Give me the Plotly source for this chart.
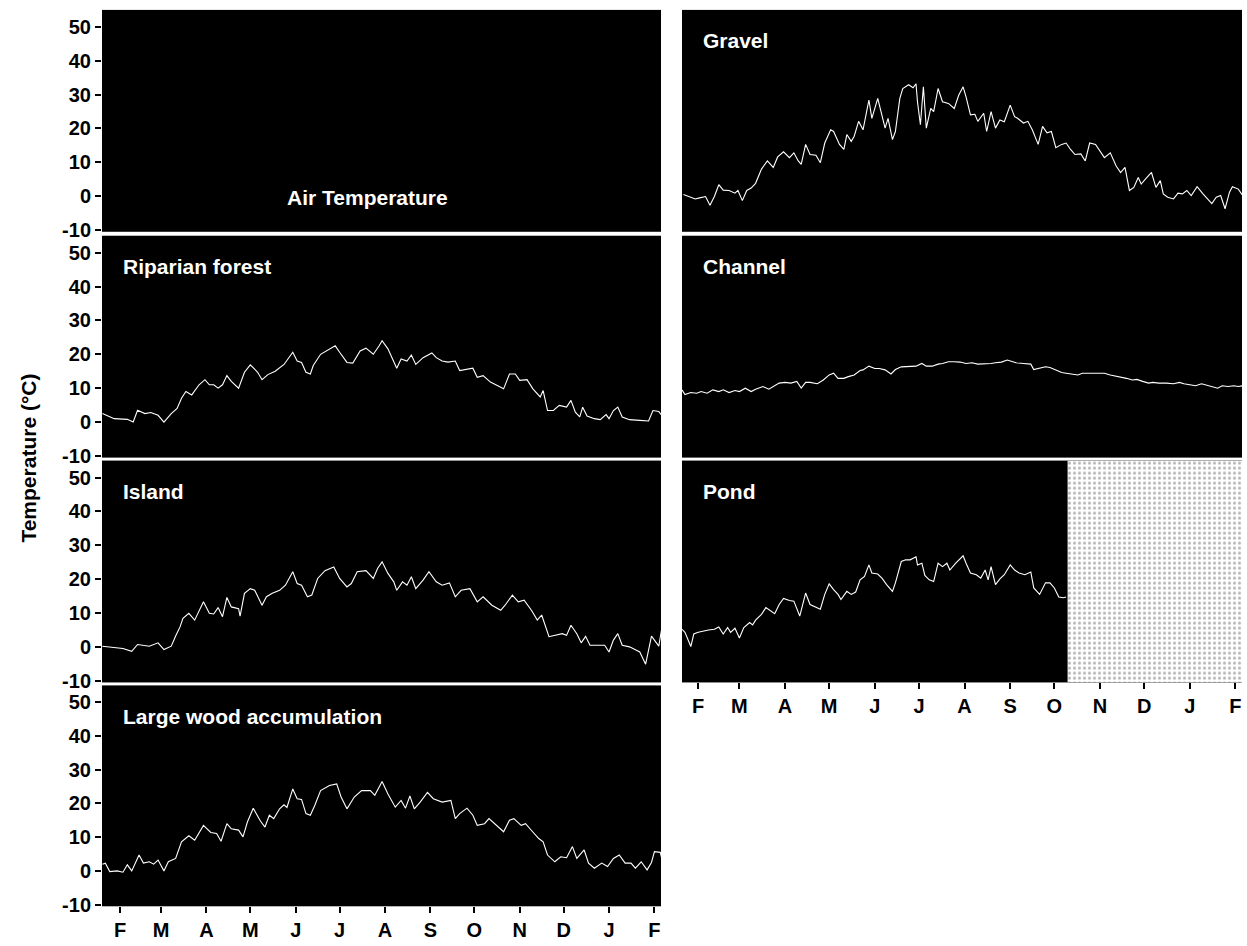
import pandas as pd
import plotly.graph_objects as go

# Day 0 of the series = 20 January of the first year
START = pd.Timestamp("2001-01-20")

month_starts = ["2001-02-01", "2001-03-01", "2001-04-01", "2001-05-01", "2001-06-01",
                "2001-07-01", "2001-08-01", "2001-09-01", "2001-10-01", "2001-11-01",
                "2001-12-01", "2002-01-01", "2002-02-01"]
month_letters = ["F", "M", "A", "M", "J", "J", "A", "S", "O", "N", "D", "J", "F"]
y_ticks = [-10, 0, 10, 20, 30, 40, 50]
y_tick_text = ["-10", "0", "10", "20", "30", "40", "50"]

# ---- daily temperature records (day since start, °C) ----
riparian_day = [0, 8, 17, 21, 24, 29, 33, 38, 42, 47, 51, 54, 57, 61, 66, 70, 73, 76, 79, 82,
                85, 88, 93, 97, 101, 106, 109, 113, 118, 124, 130, 133, 136, 139, 142, 144, 149,
                153, 159, 162, 167, 171, 176, 180, 185, 189, 191, 195, 198, 201, 204, 208, 211,
                214, 219, 225, 228, 232, 236, 241, 244, 248, 253, 256, 260, 265, 269, 274, 278,
                282, 285, 290, 294, 299, 301, 304, 308, 312, 317, 320, 323, 326, 328, 331, 336,
                340, 344, 346, 349, 352, 355, 360, 367, 373, 376, 380, 382]
riparian_temp = [2.5, 1.0, 0.8, 0.0, 3.5, 2.5, 2.8, 2.0, 0.0, 2.5, 4.0, 7.0, 9.0, 8.0, 11.0,
                 12.5, 11.0, 11.0, 10.0, 11.0, 13.7, 12.0, 10.0, 14.7, 16.9, 14.7, 12.5, 14.0,
                 15.0, 17.0, 20.6, 18.0, 17.6, 14.7, 14.2, 16.7, 20.0, 21.0, 22.5, 20.6, 17.6,
                 17.4, 21.0, 21.8, 20.0, 22.5, 24.0, 21.6, 18.6, 15.9, 18.6, 18.0, 19.8, 17.0,
                 19.0, 20.4, 19.0, 18.0, 17.7, 18.0, 15.2, 15.5, 15.9, 13.2, 13.7, 11.8, 11.0,
                 9.8, 14.2, 14.2, 12.3, 12.5, 9.8, 7.4, 9.3, 3.4, 3.4, 4.9, 4.4, 6.4, 2.9, 1.5,
                 4.4, 1.8, 1.0, 0.7, 2.2, 1.0, 3.4, 4.4, 1.5, 0.7, 0.5, 0.3, 3.4, 3.1, 2.0]

island_day = [0, 8, 14, 20, 24, 32, 38, 42, 47, 50, 53, 55, 59, 63, 69, 73, 76, 79, 82, 85, 88,
              93, 94, 97, 101, 104, 109, 112, 116, 121, 125, 130, 133, 136, 140, 143, 147, 152,
              158, 162, 167, 170, 174, 180, 185, 188, 191, 195, 199, 201, 205, 208, 211, 214,
              219, 223, 228, 232, 237, 241, 245, 251, 256, 260, 266, 272, 275, 280, 284, 288,
              293, 297, 300, 305, 309, 314, 317, 320, 324, 327, 330, 333, 339, 343, 346, 349,
              352, 355, 360, 364, 367, 371, 375, 377, 380, 382]
island_temp = [0.2, -0.2, -0.5, -1.3, 0.7, 0.2, 1.2, -0.8, 0.2, 3.2, 5.9, 8.4, 9.9, 7.9, 13.3,
               9.9, 9.7, 11.6, 8.9, 14.6, 11.8, 11.3, 9.1, 15.8, 17.2, 16.7, 12.3, 14.8, 15.8,
               16.7, 18.2, 22.2, 18.7, 18.2, 14.8, 15.3, 20.2, 22.5, 23.6, 20.2, 17.7, 18.7,
               22.2, 22.5, 20.2, 23.2, 25.1, 21.7, 19.2, 16.7, 19.2, 18.2, 20.7, 17.2, 19.7,
               22.2, 19.2, 18.2, 18.9, 14.8, 16.7, 17.2, 13.3, 14.8, 12.3, 10.8, 12.3, 15.3,
               13.3, 13.8, 10.8, 7.9, 9.4, 3.0, 3.4, 3.9, 3.4, 6.4, 3.9, 1.2, 3.1, 0.5, 0.5,
               0.5, -1.5, 2.0, 3.9, 0.5, 0.0, -1.0, -1.5, -5.1, 3.2, 2.0, 0.2, 5.4]

wood_day = [0, 2, 5, 10, 14, 17, 20, 25, 28, 32, 35, 38, 42, 45, 50, 54, 59, 63, 69, 74, 78,
            81, 85, 88, 93, 96, 99, 103, 108, 111, 114, 117, 121, 124, 126, 130, 133, 136, 139,
            142, 145, 149, 155, 160, 163, 167, 172, 177, 183, 186, 191, 195, 200, 204, 207,
            210, 213, 217, 222, 226, 232, 238, 241, 244, 249, 253, 256, 261, 264, 268, 274,
            278, 281, 286, 289, 292, 298, 301, 304, 309, 313, 317, 321, 324, 329, 332, 336,
            341, 345, 349, 353, 357, 361, 364, 368, 372, 375, 377, 381, 383]
wood_temp = [2.0, 2.3, -0.2, 0.0, -0.4, 1.8, 0.0, 4.7, 2.3, 2.7, 2.0, 3.2, 0.0, 2.7, 3.7, 8.6,
             10.4, 9.1, 13.5, 11.4, 11.1, 8.8, 14.0, 12.5, 12.1, 10.1, 14.5, 18.6, 14.7, 13.0,
             16.5, 15.5, 18.4, 19.6, 18.8, 24.3, 21.4, 21.2, 17.0, 16.5, 19.4, 23.8, 25.3,
             25.8, 21.9, 18.4, 21.9, 23.8, 23.8, 22.4, 26.5, 22.8, 18.9, 20.9, 18.6, 22.2,
             18.4, 20.4, 23.3, 21.4, 20.4, 20.9, 15.5, 17.0, 18.6, 16.5, 13.5, 14.0, 15.5,
             14.0, 11.6, 15.0, 15.5, 13.5, 14.0, 12.5, 9.6, 8.6, 4.7, 2.7, 4.2, 3.9, 7.2, 3.7,
             6.2, 2.3, 0.8, 2.3, 1.3, 3.7, 4.7, 2.3, 2.3, 0.8, 2.7, 0.3, 2.5, 5.7, 5.5, 1.8]

gravel_day = [2, 6, 10, 13, 17, 20, 23, 26, 29, 33, 37, 39, 42, 45, 48, 51, 55, 59, 63, 66, 70,
              74, 77, 80, 82, 85, 88, 92, 95, 98, 102, 104, 108, 111, 113, 116, 118, 121, 124,
              128, 130, 134, 137, 139, 141, 144, 146, 149, 151, 155, 158, 160, 161, 163, 165,
              167, 170, 172, 175, 178, 182, 186, 189, 192, 194, 197, 200, 202, 206, 208, 211,
              214, 217, 220, 224, 227, 229, 233, 236, 239, 243, 246, 249, 252, 255, 259, 262,
              265, 268, 272, 275, 278, 282, 285, 288, 292, 296, 299, 302, 305, 308, 311, 313,
              316, 320, 323, 326, 328, 331, 335, 338, 341, 344, 347, 351, 355, 358, 361, 364,
              367, 370, 373, 375, 379, 382]
gravel_temp = [0.5, -0.1, -0.8, -0.5, -0.1, -2.7, -0.1, 3.4, 1.8, 1.7, 0.9, 1.7, -1.3, 1.7,
               2.4, 3.8, 8.0, 10.4, 8.5, 11.6, 13.1, 11.4, 12.8, 10.4, 9.4, 15.3, 12.3, 12.1,
               9.9, 15.7, 19.6, 19.1, 15.3, 13.8, 18.2, 16.2, 17.7, 22.1, 19.6, 28.4, 23.0,
               28.9, 24.0, 20.1, 23.0, 16.7, 19.1, 28.9, 31.8, 32.9, 32.0, 33.2, 27.9, 21.1,
               32.3, 20.1, 25.9, 25.0, 31.8, 27.9, 27.4, 25.9, 29.8, 32.3, 29.3, 24.0, 24.2,
               22.1, 24.5, 19.1, 25.0, 20.1, 22.5, 22.0, 26.9, 23.5, 23.0, 21.6, 22.1, 19.6,
               15.3, 20.6, 18.7, 19.1, 14.3, 15.3, 15.7, 13.8, 12.3, 12.5, 10.4, 15.7, 15.3,
               13.3, 11.4, 12.8, 8.9, 7.0, 8.5, 1.7, 2.6, 5.5, 3.6, 5.1, 7.0, 2.6, 4.6, 0.7,
               -0.3, -0.8, 0.9, 0.7, 1.7, 0.2, 2.8, 0.7, -0.8, -2.2, -0.3, 0.2, -3.7, 1.2, 2.8,
               2.1, 0.2]

channel_day = [1, 3, 7, 11, 14, 18, 22, 26, 29, 33, 37, 40, 44, 48, 51, 56, 60, 64, 67, 71, 75,
               79, 82, 85, 88, 93, 97, 101, 104, 107, 111, 114, 118, 122, 124, 128, 132, 135,
               139, 143, 146, 150, 155, 160, 164, 167, 171, 175, 178, 182, 186, 190, 194, 198,
               202, 207, 211, 214, 218, 222, 224, 228, 233, 238, 240, 244, 248, 251, 255, 259,
               262, 266, 270, 273, 278, 283, 288, 292, 296, 299, 303, 307, 310, 314, 318, 321,
               325, 330, 335, 339, 342, 346, 350, 354, 357, 361, 365, 368, 372, 376, 379, 382]
channel_temp = [9.5, 8.1, 8.7, 8.5, 9.0, 8.5, 9.5, 9.0, 9.5, 8.7, 9.3, 9.0, 10.0, 9.0, 9.7,
                10.5, 9.7, 10.7, 11.5, 11.7, 11.5, 12.0, 10.0, 11.7, 11.7, 11.3, 12.4, 13.9,
                14.4, 12.9, 12.9, 13.4, 13.9, 15.2, 15.4, 16.5, 15.8, 15.8, 15.4, 14.2, 15.5,
                16.3, 16.5, 16.5, 17.3, 16.5, 16.5, 17.1, 17.3, 17.8, 17.8, 17.7, 17.3, 17.5,
                17.1, 17.1, 17.3, 17.5, 17.7, 18.3, 18.1, 17.5, 17.3, 17.1, 15.5, 15.8, 16.3,
                16.1, 15.4, 14.6, 14.4, 14.2, 13.9, 14.4, 14.4, 14.4, 14.4, 13.9, 13.6, 13.4,
                12.9, 12.4, 12.6, 12.0, 11.5, 11.7, 11.5, 11.5, 11.3, 11.7, 11.3, 11.0, 10.7,
                11.3, 11.0, 10.5, 10.0, 10.7, 10.5, 10.7, 10.5, 10.7]

pond_day = [1, 3, 7, 9, 12, 16, 19, 23, 26, 29, 32, 34, 37, 40, 43, 47, 49, 51, 55, 58, 61, 64,
            67, 70, 74, 77, 81, 85, 88, 92, 95, 98, 101, 104, 107, 109, 113, 116, 119, 122, 125,
            128, 130, 134, 137, 140, 144, 146, 150, 153, 156, 160, 161, 164, 166, 169, 172, 175,
            178, 181, 183, 187, 192, 194, 197, 201, 204, 207, 209, 211, 214, 217, 220, 224, 227,
            230, 234, 238, 240, 244, 248, 251, 254, 257, 260, 262]
pond_temp = [5.2, 4.3, 0.1, 3.8, 4.3, 4.8, 5.0, 5.2, 5.9, 3.8, 5.7, 4.3, 5.5, 2.6, 5.7, 7.2,
             6.5, 7.9, 9.6, 11.6, 10.7, 9.8, 12.5, 14.3, 13.7, 13.5, 9.1, 15.9, 12.5, 11.6,
             11.1, 15.5, 18.6, 16.9, 15.5, 14.0, 16.4, 15.5, 16.2, 19.8, 20.8, 24.2, 21.8,
             21.5, 20.2, 18.4, 16.4, 18.9, 25.2, 25.7, 25.7, 26.6, 24.2, 24.7, 21.1, 19.8,
             19.3, 24.7, 23.7, 24.7, 22.7, 24.7, 26.9, 24.7, 21.8, 21.3, 20.3, 22.7, 19.8,
             23.7, 18.4, 20.1, 21.3, 24.2, 22.7, 21.8, 21.3, 22.1, 17.4, 15.5, 18.9, 18.9,
             17.4, 14.7, 14.5, 14.7]

# period without a pond record (day range)
pond_gap = [263, 381.5]


def to_dates(days):
    return [START + pd.Timedelta(days=float(d)) for d in days]


W, H = 1247, 946
Y_RANGE = [-10.5, 55]
LEFT_X = [-0.3, 381.5]
RIGHT_X = [1.0, 381.5]

# panel boxes in pixels: columns (left, right), rows (top, bottom)
col_left = (102, 661)
col_right = (682, 1242)
rows = [(10, 234), (238, 462), (465, 689), (692, 915)]


def xdom(c):
    return [c[0] / W, c[1] / W]


def ydom(r):
    return [1 - r[1] / H, 1 - r[0] / H]


FONT = "Liberation Sans, Arial, Helvetica, sans-serif"
y_tick_font = dict(family=FONT, size=20, color="black", weight="bold")
x_tick_font = dict(family=FONT, size=20, color="black", weight="bold")
label_font = dict(family=FONT, size=21, color="white", weight="bold")

panels = [
    (1, col_left, 0, "Air Temperature", None, None, LEFT_X),
    (2, col_left, 1, "Riparian forest", riparian_day, riparian_temp, LEFT_X),
    (3, col_left, 2, "Island", island_day, island_temp, LEFT_X),
    (4, col_left, 3, "Large wood accumulation", wood_day, wood_temp, LEFT_X),
    (5, col_right, 0, "Gravel", gravel_day, gravel_temp, RIGHT_X),
    (6, col_right, 1, "Channel", channel_day, channel_temp, RIGHT_X),
    (7, col_right, 2, "Pond", pond_day, pond_temp, RIGHT_X),
]

fig = go.Figure()
layout = dict(
    width=W, height=H,
    margin=dict(l=0, r=0, t=0, b=0),
    paper_bgcolor="white",
    plot_bgcolor="black",
    showlegend=False,
    annotations=[],
)

for idx, col, row, label, days, temps, xr in panels:
    xa = "x" if idx == 1 else f"x{idx}"
    ya = "y" if idx == 1 else f"y{idx}"
    xkey = "xaxis" if idx == 1 else f"xaxis{idx}"
    ykey = "yaxis" if idx == 1 else f"yaxis{idx}"
    is_left = col == col_left
    bottom_row = (is_left and row == 3) or ((not is_left) and row == 2)

    # shaded block where the pond record is missing
    if label == "Pond":
        gx = to_dates([pond_gap[0], pond_gap[1], pond_gap[1], pond_gap[0], pond_gap[0]])
        gy = [Y_RANGE[0], Y_RANGE[0], Y_RANGE[1], Y_RANGE[1], Y_RANGE[0]]
        fig.add_trace(go.Scatter(
            x=gx, y=gy, xaxis=xa, yaxis=ya, mode="lines", line=dict(width=0),
            fill="toself", fillcolor="white",
            fillpattern=dict(shape=".", fgcolor="#6e6e6e", bgcolor="white",
                             size=5, solidity=0.3),
            hoverinfo="skip"))

    if days is not None:
        fig.add_trace(go.Scatter(
            x=to_dates(days), y=temps, xaxis=xa, yaxis=ya, mode="lines",
            line=dict(color="white", width=1.1)))
    else:
        # the air-temperature panel carries no visible record; an empty trace keeps its frame
        fig.add_trace(go.Scatter(x=[], y=[], xaxis=xa, yaxis=ya, mode="lines",
                                 line=dict(color="black", width=1)))

    layout[xkey] = dict(
        domain=xdom(col), anchor=ya, type="date",
        range=[START + pd.Timedelta(days=xr[0]), START + pd.Timedelta(days=xr[1])],
        showgrid=False, zeroline=False, showline=False,
        tickmode="array", tickvals=month_starts, ticktext=month_letters,
        ticks="outside" if bottom_row else "", ticklen=6, tickwidth=1.5, tickcolor="black",
        showticklabels=bottom_row, tickfont=x_tick_font,
        fixedrange=True,
    )
    layout[ykey] = dict(
        domain=ydom(rows[row]), anchor=xa, range=Y_RANGE,
        showgrid=False, zeroline=False, showline=False,
        tickmode="array", tickvals=y_ticks, ticktext=y_tick_text,
        ticks="outside" if is_left else "", ticklen=6, tickwidth=1.5, tickcolor="black",
        showticklabels=is_left, tickfont=y_tick_font,
        fixedrange=True,
    )

    # panel label
    top_px = rows[row][0]
    if label == "Air Temperature":
        layout["annotations"].append(dict(
            text=label, xref="paper", yref="paper", x=367 / W, y=1 - 199 / H,
            xanchor="center", yanchor="middle", showarrow=False, font=label_font))
    else:
        lx = (col[0] + 19) / W
        ly = 1 - (top_px + 31) / H
        layout["annotations"].append(dict(
            text=label, xref="paper", yref="paper", x=lx, y=ly,
            xanchor="left", yanchor="middle", showarrow=False, font=label_font))

# shared y-axis title
layout["annotations"].append(dict(
    text="Temperature (°C)", xref="paper", yref="paper", x=29 / W, y=1 - 463 / H,
    xanchor="center", yanchor="middle", textangle=-90, showarrow=False,
    font=dict(family=FONT, size=21, color="black", weight="bold")))

fig.update_layout(**layout)
fig.write_html("out.html")
